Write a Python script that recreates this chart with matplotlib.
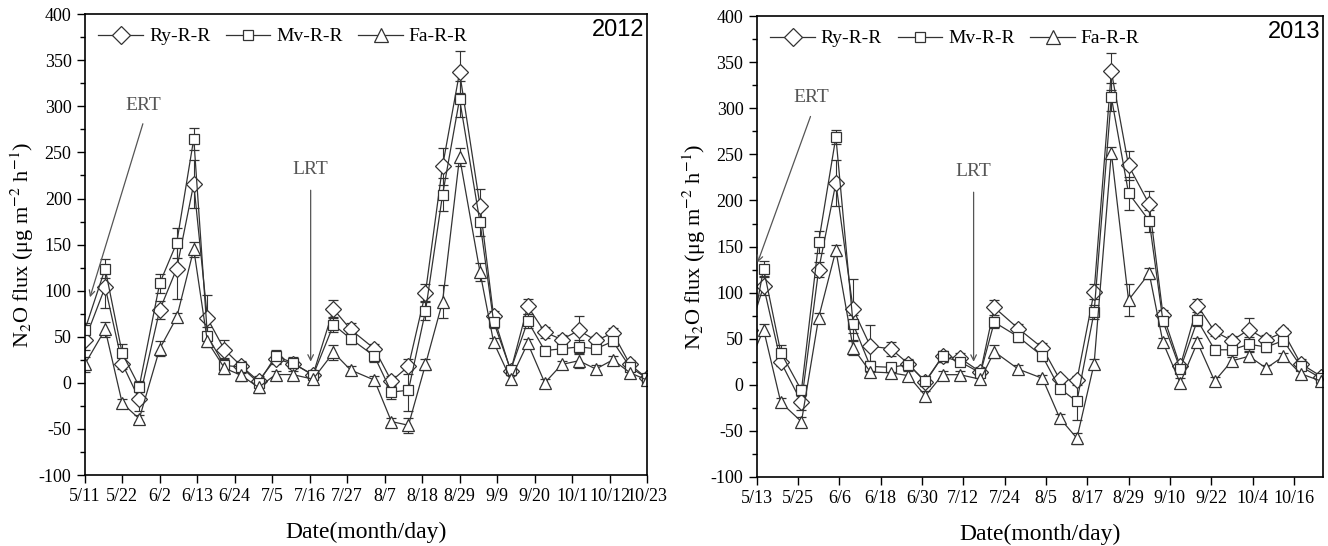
import matplotlib
matplotlib.use('Agg')
import matplotlib.pyplot as plt
from matplotlib.ticker import MultipleLocator
from matplotlib.lines import Line2D

plt.rcParams['axes.unicode_minus'] = False
plt.rcParams['mathtext.fontset'] = 'stix'

# 2012: days since 5/11
days12 = [0, 6, 11, 16, 22, 27, 32, 36, 41, 46, 51, 56, 61, 67, 73, 78, 85, 90, 95, 100,
          105, 110, 116, 120, 125, 130, 135, 140, 145, 150, 155, 160, 165]
ry12 = [46, 104, 21, -18, 79, 124, 216, 70, 36, 18, 2, 26, 21, 9, 80, 58, 37, 2, 18, 98,
        235, 337, 192, 72, 13, 83, 55, 47, 57, 46, 54, 20, 5]
mv12 = [57, 124, 32, -4, 108, 152, 265, 51, 19, 17, 0, 29, 22, 8, 63, 48, 29, -10, -8, 78,
        204, 308, 174, 66, 14, 67, 35, 37, 39, 37, 45, 17, 5]
fa12 = [20, 58, -22, -39, 37, 71, 145, 45, 16, 8, -5, 9, 9, 4, 33, 14, 3, -42, -46, 20,
        88, 245, 120, 44, 4, 43, 0, 20, 24, 15, 25, 11, 3]
ry12_err = [10, 23, 6, 12, 10, 33, 26, 25, 10, 6, 5, 6, 5, 4, 10, 7, 5, 5, 8, 9,
            20, 23, 18, 6, 5, 8, 6, 5, 15, 5, 6, 5, 4]
mv12_err = [8, 10, 10, 6, 10, 16, 12, 10, 8, 6, 5, 7, 6, 4, 8, 6, 6, 8, 22, 10,
            18, 20, 15, 6, 4, 8, 5, 5, 8, 5, 5, 4, 3]
fa12_err = [8, 8, 5, 4, 8, 5, 8, 6, 6, 6, 6, 4, 4, 4, 8, 4, 4, 4, 8, 6,
            18, 10, 10, 5, 5, 5, 4, 4, 8, 4, 4, 4, 3]
ticks12 = ['5/11', '5/22', '6/2', '6/13', '6/24', '7/5', '7/16', '7/27', '8/7', '8/18',
           '8/29', '9/9', '9/20', '10/1', '10/12', '10/23']

# 2013: days since 5/13
days13 = [-2, 2, 7, 13, 18, 23, 28, 33, 39, 44, 49, 54, 59, 65, 69, 76, 83, 88, 93, 98,
          103, 108, 114, 118, 123, 128, 133, 138, 143, 148, 153, 158, 164]
ry13 = [60, 107, 25, -19, 125, 219, 82, 42, 39, 23, 3, 31, 29, 14, 84, 61, 40, 6, 5, 101,
        340, 238, 196, 76, 20, 86, 58, 48, 60, 49, 57, 23, 9]
mv13 = [45, 126, 35, -6, 155, 269, 66, 20, 19, 22, 4, 31, 25, 13, 68, 52, 31, -4, -18, 79,
        312, 208, 178, 69, 17, 70, 38, 38, 44, 41, 48, 20, 7]
fa13 = [25, 60, -19, -40, 73, 146, 40, 14, 13, 10, -12, 11, 11, 6, 36, 17, 7, -36, -58, 23,
        252, 92, 121, 46, 2, 46, 4, 26, 31, 18, 31, 12, 4]
ry13_err = [5, 10, 5, 8, 8, 25, 33, 23, 8, 5, 4, 6, 5, 5, 8, 5, 5, 4, 5, 8,
            20, 16, 14, 5, 4, 7, 5, 5, 12, 5, 5, 5, 4]
mv13_err = [5, 8, 8, 6, 12, 8, 10, 6, 5, 5, 4, 6, 5, 4, 6, 5, 5, 5, 20, 8,
            15, 18, 12, 5, 4, 6, 5, 5, 8, 5, 5, 4, 3]
fa13_err = [5, 6, 5, 5, 5, 6, 8, 5, 5, 5, 5, 4, 4, 4, 7, 4, 4, 4, 6, 5,
            6, 17, 6, 5, 5, 5, 4, 4, 6, 4, 4, 4, 3]
ticks13 = ['5/13', '5/25', '6/6', '6/18', '6/30', '7/12', '7/24', '8/5', '8/17', '8/29',
           '9/10', '9/22', '10/4', '10/16']

serif = 'Liberation Serif'
lc = '#333333'
tc = '#555555'

fig = plt.figure(figsize=(13.28, 5.46), dpi=100)
ax1 = fig.add_axes([0.0638, 0.130, 0.4234, 0.844])
ax2 = fig.add_axes([0.5698, 0.1264, 0.4265, 0.844])


def draw(ax, days, series, errs, step, labels, xmax, year, ert, lrt):
    styles = [('D', 8, 'Ry-R-R'), ('s', 6.5, 'Mv-R-R'), ('^', 8.5, 'Fa-R-R')]
    handles = []
    for (m, ms, name), y, e in zip(styles, series, errs):
        ax.errorbar(days, y, yerr=e, fmt='-', marker=m, ms=ms, mfc='white', mec=lc,
                    mew=0.9, color=lc, lw=0.9, ecolor=lc, elinewidth=0.8,
                    capsize=3.5, capthick=0.8)
        handles.append(Line2D([], [], color=lc, lw=0.9, marker=m, ms=ms + 1,
                              mfc='white', mec=lc, mew=0.9, label=name))
    ax.set_xlim(0, xmax)
    ax.set_ylim(-100, 400)
    ax.set_xticks([i * step for i in range(len(labels))])
    ax.set_xticklabels(labels)
    ax.yaxis.set_major_locator(MultipleLocator(50))
    ax.yaxis.set_minor_locator(MultipleLocator(25))
    ax.tick_params(axis='both', which='major', direction='out', length=6, width=1,
                   labelsize=13, colors='black')
    ax.tick_params(axis='y', which='minor', direction='out', length=3.5, width=1)
    for lab in ax.get_xticklabels() + ax.get_yticklabels():
        lab.set_family(serif)
    for sp in ax.spines.values():
        sp.set_linewidth(1.2)
    ax.set_xlabel('Date(month/day)', family=serif, fontsize=17, labelpad=12)
    ax.set_ylabel('N$_{2}$O flux (\u03bcg m$^{-2}$ h$^{-1}$)', family=serif,
                  fontsize=16, labelpad=2)
    ax.legend(handles=handles, loc='upper left', ncol=3, frameon=False, handlelength=2.3,
              columnspacing=0.8, handletextpad=0.3, borderaxespad=0.3,
              prop={'family': serif, 'size': 14})
    ax.text(0.995, 0.99, year, transform=ax.transAxes, ha='right', va='top',
            family='Liberation Sans', fontsize=17)
    # annotations
    ax.annotate('', xy=ert[0], xytext=ert[1],
                arrowprops=dict(arrowstyle='->', color=tc, lw=0.9))
    ax.text(ert[1][0], ert[1][1] + 8, 'ERT', ha='center', va='bottom', family=serif,
            fontsize=14, color=tc)
    ax.annotate('', xy=lrt[0], xytext=lrt[1],
                arrowprops=dict(arrowstyle='->', color=tc, lw=0.9))
    ax.text(lrt[1][0], lrt[1][1] + 10, 'LRT', ha='center', va='bottom', family=serif,
            fontsize=14, color=tc)


draw(ax1, days12, [ry12, mv12, fa12], [ry12_err, mv12_err, fa12_err], 11, ticks12, 165,
     '2012', ((1.3, 90), (17.3, 284)), ((66.3, 20), (66.3, 212)))
draw(ax2, days13, [ry13, mv13, fa13], [ry13_err, mv13_err, fa13_err], 12, ticks13, 164.5,
     '2013', ((0.0, 130), (15.9, 294)), ((63.0, 22), (63.0, 212)))

fig.savefig('out.png', dpi=100)
